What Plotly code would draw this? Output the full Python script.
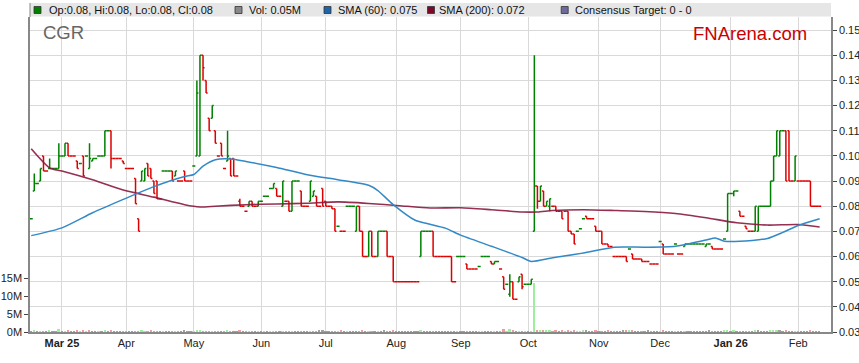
import plotly.graph_objects as go
import pandas as pd

# trading days (weekdays) shown on the chart
dates = pd.bdate_range("2025-02-17", "2026-02-11")

# one line per week (Mon..Fri)
opens = [
    0.075, 0.086, 0.089, 0.090, 0.100,
    0.094, 0.095, 0.095, 0.095, 0.095,
    0.100, 0.100, 0.105, 0.100, 0.100,
    0.098, 0.097, 0.100, 0.100, 0.095,
    0.098, 0.099, 0.100, 0.100, 0.100,
    0.110, 0.110, 0.099, 0.099, 0.099,
    0.098, 0.095, 0.095, 0.095, 0.091,
    0.075, 0.090, 0.090, 0.097, 0.095,
    0.090, 0.090, 0.083, 0.094, 0.094,
    0.094, 0.094, 0.092, 0.090, 0.090,
    0.094, 0.090, 0.090, 0.096, 0.100,
    0.100, 0.140, 0.130, 0.115, 0.115,
    0.110, 0.100, 0.105, 0.095, 0.098,
    0.099, 0.099, 0.092, 0.082, 0.080,
    0.078, 0.080, 0.082, 0.080, 0.080,
    0.082, 0.084, 0.084, 0.087, 0.087,
    0.087, 0.084, 0.080, 0.082, 0.082,
    0.078, 0.090, 0.090, 0.086, 0.080,
    0.080, 0.082, 0.084, 0.084, 0.080,
    0.087, 0.082, 0.080, 0.080, 0.079,
    0.072, 0.070, 0.070, 0.080, 0.080,
    0.080, 0.070, 0.080, 0.070, 0.060,
    0.060, 0.070, 0.060, 0.060, 0.070,
    0.070, 0.070, 0.060, 0.060, 0.050,
    0.050, 0.050, 0.050, 0.050, 0.050,
    0.050, 0.050, 0.060, 0.070, 0.070,
    0.070, 0.070, 0.060, 0.060, 0.060,
    0.060, 0.060, 0.060, 0.050, 0.060,
    0.060, 0.060, 0.057, 0.055, 0.055,
    0.055, 0.056, 0.060, 0.060, 0.060,
    0.058, 0.057, 0.058, 0.055, 0.052,
    0.049, 0.045, 0.050, 0.043, 0.050,
    0.053, 0.049, 0.049, 0.049, 0.070,
    0.088, 0.082, 0.086, 0.080, 0.080,
    0.080, 0.080, 0.078, 0.078, 0.078,
    0.078, 0.070, 0.069, 0.070, 0.071,
    0.075, 0.076, 0.075, 0.075, 0.072,
    0.070, 0.070, 0.065, 0.065, 0.064,
    0.060, 0.060, 0.060, 0.060, 0.060,
    0.063, 0.061, 0.059, 0.059, 0.059,
    0.058, 0.058, 0.057, 0.057, 0.057,
    0.066, 0.065, 0.061, 0.061, 0.061,
    0.065, 0.061, 0.061, 0.064, 0.065,
    0.065, 0.065, 0.065, 0.065, 0.065,
    0.064, 0.065, 0.064, 0.063, 0.063,
    0.063, 0.067, 0.070, 0.085, 0.085,
    0.086, 0.078, 0.076, 0.072, 0.070,
    0.070, 0.070, 0.070, 0.080, 0.080,
    0.080, 0.080, 0.090, 0.100, 0.100,
    0.110, 0.110, 0.110, 0.090, 0.090,
    0.090, 0.090, 0.090, 0.090, 0.090,
    0.080, 0.080, 0.080,
]
highs = [
    0.075, 0.093, 0.089, 0.095, 0.100,
    0.094, 0.099, 0.095, 0.095, 0.105,
    0.100, 0.105, 0.105, 0.100, 0.100,
    0.098, 0.097, 0.100, 0.100, 0.105,
    0.099, 0.099, 0.100, 0.100, 0.110,
    0.110, 0.110, 0.099, 0.099, 0.099,
    0.098, 0.095, 0.095, 0.095, 0.091,
    0.075, 0.094, 0.095, 0.097, 0.095,
    0.090, 0.090, 0.083, 0.094, 0.094,
    0.094, 0.094, 0.094, 0.090, 0.090,
    0.094, 0.090, 0.090, 0.096, 0.130,
    0.140, 0.140, 0.130, 0.115, 0.120,
    0.110, 0.100, 0.105, 0.095, 0.110,
    0.099, 0.099, 0.092, 0.083, 0.080,
    0.078, 0.082, 0.082, 0.080, 0.082,
    0.082, 0.084, 0.084, 0.087, 0.089,
    0.087, 0.084, 0.090, 0.082, 0.082,
    0.090, 0.090, 0.090, 0.086, 0.080,
    0.080, 0.090, 0.086, 0.084, 0.080,
    0.087, 0.082, 0.080, 0.080, 0.079,
    0.072, 0.070, 0.070, 0.080, 0.080,
    0.080, 0.080, 0.080, 0.070, 0.060,
    0.070, 0.070, 0.060, 0.070, 0.070,
    0.070, 0.070, 0.060, 0.060, 0.050,
    0.050, 0.050, 0.050, 0.050, 0.050,
    0.050, 0.050, 0.070, 0.070, 0.070,
    0.070, 0.070, 0.060, 0.060, 0.060,
    0.060, 0.060, 0.060, 0.050, 0.060,
    0.060, 0.060, 0.057, 0.055, 0.055,
    0.055, 0.056, 0.060, 0.060, 0.060,
    0.058, 0.058, 0.058, 0.055, 0.052,
    0.049, 0.053, 0.050, 0.043, 0.052,
    0.053, 0.049, 0.049, 0.051, 0.140,
    0.088, 0.088, 0.086, 0.082, 0.083,
    0.080, 0.080, 0.078, 0.078, 0.078,
    0.078, 0.070, 0.069, 0.070, 0.071,
    0.075, 0.076, 0.075, 0.075, 0.072,
    0.070, 0.070, 0.065, 0.065, 0.064,
    0.060, 0.060, 0.060, 0.060, 0.060,
    0.063, 0.061, 0.059, 0.059, 0.059,
    0.058, 0.058, 0.057, 0.057, 0.057,
    0.066, 0.065, 0.061, 0.061, 0.061,
    0.065, 0.061, 0.061, 0.065, 0.065,
    0.065, 0.065, 0.065, 0.065, 0.065,
    0.065, 0.065, 0.064, 0.063, 0.063,
    0.063, 0.067, 0.085, 0.085, 0.086,
    0.086, 0.078, 0.076, 0.072, 0.070,
    0.070, 0.080, 0.080, 0.080, 0.080,
    0.080, 0.090, 0.100, 0.110, 0.110,
    0.110, 0.110, 0.110, 0.090, 0.100,
    0.090, 0.090, 0.090, 0.090, 0.090,
    0.080, 0.080, 0.080,
]
lows = [
    0.075, 0.086, 0.089, 0.090, 0.094,
    0.094, 0.095, 0.095, 0.095, 0.095,
    0.100, 0.100, 0.100, 0.100, 0.100,
    0.095, 0.097, 0.092, 0.100, 0.095,
    0.098, 0.099, 0.100, 0.100, 0.100,
    0.110, 0.095, 0.099, 0.099, 0.099,
    0.097, 0.095, 0.095, 0.095, 0.081,
    0.070, 0.090, 0.090, 0.092, 0.091,
    0.085, 0.083, 0.083, 0.094, 0.094,
    0.094, 0.090, 0.092, 0.090, 0.090,
    0.090, 0.090, 0.090, 0.096, 0.100,
    0.100, 0.130, 0.125, 0.110, 0.115,
    0.105, 0.100, 0.100, 0.095, 0.098,
    0.092, 0.092, 0.092, 0.080, 0.080,
    0.078, 0.080, 0.080, 0.080, 0.080,
    0.082, 0.084, 0.084, 0.087, 0.087,
    0.084, 0.084, 0.080, 0.082, 0.078,
    0.078, 0.090, 0.090, 0.080, 0.080,
    0.080, 0.082, 0.084, 0.080, 0.080,
    0.080, 0.080, 0.080, 0.079, 0.070,
    0.072, 0.070, 0.070, 0.080, 0.080,
    0.080, 0.070, 0.070, 0.060, 0.060,
    0.060, 0.060, 0.060, 0.060, 0.070,
    0.070, 0.060, 0.060, 0.050, 0.050,
    0.050, 0.050, 0.050, 0.050, 0.050,
    0.050, 0.050, 0.060, 0.070, 0.070,
    0.070, 0.060, 0.060, 0.060, 0.060,
    0.060, 0.060, 0.050, 0.050, 0.060,
    0.060, 0.060, 0.055, 0.055, 0.055,
    0.055, 0.056, 0.060, 0.060, 0.060,
    0.057, 0.057, 0.058, 0.055, 0.047,
    0.049, 0.044, 0.043, 0.043, 0.050,
    0.047, 0.049, 0.049, 0.049, 0.070,
    0.079, 0.082, 0.080, 0.080, 0.078,
    0.080, 0.078, 0.078, 0.075, 0.078,
    0.070, 0.069, 0.065, 0.070, 0.071,
    0.075, 0.075, 0.075, 0.075, 0.070,
    0.070, 0.065, 0.065, 0.064, 0.064,
    0.060, 0.060, 0.060, 0.060, 0.058,
    0.063, 0.059, 0.059, 0.059, 0.058,
    0.058, 0.058, 0.057, 0.057, 0.057,
    0.066, 0.061, 0.061, 0.061, 0.061,
    0.065, 0.061, 0.061, 0.064, 0.065,
    0.065, 0.065, 0.065, 0.065, 0.065,
    0.064, 0.065, 0.063, 0.063, 0.063,
    0.063, 0.067, 0.070, 0.085, 0.084,
    0.086, 0.076, 0.076, 0.071, 0.070,
    0.070, 0.070, 0.070, 0.080, 0.080,
    0.080, 0.080, 0.090, 0.100, 0.100,
    0.110, 0.090, 0.090, 0.090, 0.090,
    0.090, 0.090, 0.090, 0.090, 0.080,
    0.080, 0.080, 0.080,
]
closes = [
    0.075, 0.089, 0.089, 0.095, 0.094,
    0.094, 0.095, 0.095, 0.095, 0.100,
    0.100, 0.105, 0.100, 0.100, 0.100,
    0.095, 0.097, 0.092, 0.100, 0.099,
    0.099, 0.099, 0.100, 0.100, 0.110,
    0.110, 0.099, 0.099, 0.099, 0.099,
    0.097, 0.095, 0.095, 0.095, 0.081,
    0.070, 0.094, 0.095, 0.092, 0.091,
    0.085, 0.083, 0.083, 0.094, 0.094,
    0.094, 0.090, 0.094, 0.090, 0.090,
    0.090, 0.090, 0.090, 0.096, 0.125,
    0.140, 0.135, 0.125, 0.110, 0.120,
    0.105, 0.100, 0.100, 0.095, 0.100,
    0.092, 0.092, 0.092, 0.080, 0.080,
    0.078, 0.082, 0.080, 0.080, 0.082,
    0.082, 0.084, 0.084, 0.087, 0.089,
    0.084, 0.084, 0.090, 0.082, 0.078,
    0.090, 0.090, 0.090, 0.080, 0.080,
    0.080, 0.090, 0.086, 0.080, 0.080,
    0.080, 0.080, 0.080, 0.079, 0.070,
    0.072, 0.070, 0.070, 0.080, 0.080,
    0.080, 0.080, 0.070, 0.060, 0.060,
    0.070, 0.060, 0.060, 0.070, 0.070,
    0.070, 0.060, 0.060, 0.050, 0.050,
    0.050, 0.050, 0.050, 0.050, 0.050,
    0.050, 0.050, 0.070, 0.070, 0.070,
    0.070, 0.060, 0.060, 0.060, 0.060,
    0.060, 0.060, 0.050, 0.050, 0.060,
    0.060, 0.060, 0.055, 0.055, 0.055,
    0.055, 0.056, 0.060, 0.060, 0.060,
    0.057, 0.058, 0.058, 0.055, 0.047,
    0.049, 0.050, 0.043, 0.043, 0.052,
    0.048, 0.049, 0.049, 0.051, 0.088,
    0.082, 0.088, 0.080, 0.082, 0.083,
    0.080, 0.078, 0.078, 0.075, 0.078,
    0.070, 0.069, 0.065, 0.070, 0.071,
    0.075, 0.075, 0.075, 0.075, 0.070,
    0.070, 0.065, 0.065, 0.064, 0.064,
    0.060, 0.060, 0.060, 0.060, 0.058,
    0.063, 0.059, 0.059, 0.059, 0.058,
    0.058, 0.058, 0.057, 0.057, 0.057,
    0.066, 0.061, 0.061, 0.061, 0.061,
    0.065, 0.061, 0.061, 0.065, 0.065,
    0.065, 0.065, 0.065, 0.065, 0.065,
    0.065, 0.065, 0.063, 0.063, 0.063,
    0.063, 0.067, 0.085, 0.085, 0.086,
    0.086, 0.076, 0.076, 0.071, 0.070,
    0.070, 0.080, 0.080, 0.080, 0.080,
    0.080, 0.090, 0.100, 0.110, 0.110,
    0.110, 0.090, 0.090, 0.090, 0.100,
    0.090, 0.090, 0.090, 0.090, 0.080,
    0.080, 0.080, 0.080,
]
# volume in millions of shares
volumes_m = [
    0.05, 0.3, 0.05, 0.05, 0.05,
    0.05, 0.3, 0.05, 0.05, 0.9,
    0.05, 0.05, 0.3, 0.05, 0.05,
    0.4, 0.05, 0.4, 0.05, 0.3,
    0.05, 0.05, 0.05, 0.05, 0.3,
    0.05, 0.3, 0.05, 0.05, 0.05,
    0.05, 0.05, 0.05, 0.05, 0.05,
    0.05, 0.3, 0.05, 0.05, 0.3,
    0.05, 0.05, 0.05, 0.05, 0.05,
    0.05, 0.05, 0.05, 0.05, 0.05,
    0.3, 0.05, 0.05, 0.05, 0.4,
    0.4, 0.05, 0.05, 0.05, 0.05,
    0.05, 0.05, 0.05, 0.05, 0.3,
    0.05, 0.05, 0.05, 0.3, 0.05,
    0.05, 0.05, 0.05, 0.05, 0.05,
    0.05, 0.05, 0.05, 0.05, 0.05,
    0.05, 0.05, 0.05, 0.05, 0.05,
    0.05, 0.05, 0.05, 0.05, 0.05,
    0.05, 0.05, 0.05, 0.05, 0.3,
    0.3, 0.05, 0.05, 0.05, 0.05,
    0.05, 0.3, 0.05, 0.05, 0.05,
    0.05, 0.05, 0.05, 0.6, 0.05,
    0.05, 0.05, 0.05, 0.05, 0.05,
    0.3, 0.05, 0.05, 0.6, 0.05,
    0.05, 0.05, 0.05, 0.05, 0.05,
    0.05, 0.05, 0.5, 0.05, 0.05,
    0.05, 0.05, 0.05, 0.05, 0.05,
    0.05, 0.05, 0.05, 0.2, 0.05,
    0.05, 0.05, 0.05, 0.05, 0.05,
    0.05, 0.05, 0.05, 0.05, 0.05,
    0.05, 0.05, 0.05, 0.05, 0.9,
    0.05, 0.7, 0.3, 0.05, 0.05,
    0.05, 0.05, 0.05, 0.05, 13.5,
    0.6, 0.3, 0.3, 0.3, 0.3,
    0.05, 0.5, 0.05, 0.3, 0.05,
    0.6, 0.05, 0.4, 0.05, 0.05,
    0.3, 0.3, 0.05, 0.05, 0.3,
    0.05, 0.05, 0.05, 0.3, 0.05,
    0.05, 0.05, 0.05, 0.3, 0.3,
    0.3, 0.3, 0.05, 0.05, 0.05,
    0.05, 0.3, 0.05, 0.05, 0.05,
    0.05, 0.3, 0.05, 0.05, 0.05,
    0.05, 0.05, 0.05, 0.05, 0.05,
    0.05, 0.05, 0.05, 0.05, 0.05,
    0.05, 0.3, 0.05, 0.05, 0.05,
    0.05, 0.3, 0.4, 0.05, 0.3,
    0.05, 0.05, 0.05, 0.05, 0.05,
    0.05, 0.4, 0.3, 0.05, 0.05,
    0.05, 0.3, 0.4, 0.6, 0.3,
    0.05, 0.3, 0.05, 0.05, 0.05,
    0.05, 0.05, 0.05, 0.05, 0.3,
    0.05, 0.05, 0.05,
]

# moving averages
sma60_dates = ["2025-02-17", "2025-03-03", "2025-03-17", "2025-03-31", "2025-04-14",
               "2025-04-28", "2025-05-01", "2025-05-06", "2025-05-12", "2025-05-19",
               "2025-05-26", "2025-06-09", "2025-06-23", "2025-07-07", "2025-07-21",
               "2025-07-24", "2025-07-31", "2025-08-11", "2025-08-18", "2025-08-25",
               "2025-09-01", "2025-09-15", "2025-09-29", "2025-10-02", "2025-10-13",
               "2025-10-27", "2025-11-10", "2025-11-24", "2025-12-08", "2025-12-22",
               "2025-12-25", "2025-12-30", "2026-01-12", "2026-01-19", "2026-01-26",
               "2026-02-02", "2026-02-11"]
sma60_values = [0.0683, 0.0714, 0.0774, 0.0827, 0.0878,
                0.0918, 0.0926, 0.0959, 0.0985, 0.0988,
                0.0978, 0.0954, 0.0925, 0.0905, 0.0883,
                0.0862, 0.0806, 0.0745, 0.0728, 0.0713,
                0.0685, 0.0641, 0.0596, 0.0580, 0.0595,
                0.0614, 0.0637, 0.0637, 0.0641, 0.0666,
                0.0674, 0.0661, 0.0664, 0.0672, 0.0696,
                0.0723, 0.0750]
sma200_dates = ["2025-02-17", "2025-02-25", "2025-03-03", "2025-03-17", "2025-03-31",
                "2025-04-14", "2025-04-28", "2025-05-05", "2025-05-12", "2025-05-26",
                "2025-06-09", "2025-06-23", "2025-07-07", "2025-07-21", "2025-08-04",
                "2025-08-18", "2025-09-01", "2025-09-15", "2025-09-29", "2025-10-06",
                "2025-10-13", "2025-10-27", "2025-11-10", "2025-11-24", "2025-12-08",
                "2025-12-22", "2026-01-05", "2026-01-19", "2026-02-02", "2026-02-11"]
sma200_values = [0.1028, 0.0952, 0.0940, 0.0905, 0.0864,
                 0.0836, 0.0806, 0.0797, 0.0800, 0.0806,
                 0.0809, 0.0812, 0.0817, 0.0811, 0.0802,
                 0.0793, 0.0794, 0.0786, 0.0777, 0.0777,
                 0.0783, 0.0786, 0.0783, 0.0779, 0.0771,
                 0.0754, 0.0734, 0.0725, 0.0727, 0.0717]

month_tick_dates = ["2025-03-03", "2025-04-01", "2025-05-01", "2025-06-02", "2025-07-01",
                    "2025-08-01", "2025-09-01", "2025-10-01", "2025-11-03", "2025-12-01",
                    "2026-01-01", "2026-02-02"]
month_tick_labels = ["<b>Mar 25</b>", "Apr", "May", "Jun", "Jul", "Aug", "Sep", "Oct",
                     "Nov", "Dec", "<b>Jan 26</b>", "Feb"]
vol_ticks = [0, 5, 10, 15]
vol_tick_labels = ["0M", "5M", "10M", "15M"]

legend_items = [
    ("Op:0.08, Hi:0.08, Lo:0.08, Cl:0.08", "#008000"),
    ("Vol: 0.05M", "#888888"),
    ("SMA (60): 0.075", "#1f63a8"),
    ("SMA (200): 0.072", "#7a0a2a"),
    ("Consensus Target: 0 - 0", "#6c6c9c"),
]

FONT = "Liberation Sans, Arial, sans-serif"
W, H = 859, 363
PX0, PX1, PY0, PY1 = 30, 831, 17, 332
ML, MR, MT, MB = PX0, W - PX1, PY0, H - PY1
PW, PH = PX1 - PX0, PY1 - PY0

def px_x(px):
    return (px - PX0) / PW

def px_y(py):
    return (PY1 - py) / PH

vol_colors = []
for i, c in enumerate(closes):
    prev = closes[i - 1] if i > 0 else c
    if c > prev:
        vol_colors.append("#9cf09c")
    elif c < prev:
        vol_colors.append("#f29a9a")
    else:
        vol_colors.append("#a0a0a0")

fig = go.Figure()
fig.add_trace(go.Bar(
    x=dates, y=volumes_m, marker=dict(color=vol_colors, line=dict(width=0)),
    width=0.55 * 86400000, yaxis="y", showlegend=False, hoverinfo="skip"))
fig.add_trace(go.Ohlc(
    x=dates, open=opens, high=highs, low=lows, close=closes, yaxis="y2",
    increasing=dict(line=dict(color="#008000", width=1.5)),
    decreasing=dict(line=dict(color="#dd0000", width=1.5)),
    tickwidth=0.5, showlegend=False))
fig.add_trace(go.Scatter(
    x=sma200_dates, y=sma200_values, yaxis="y2", mode="lines",
    line=dict(color="#8a1a40", width=1.6, shape="spline", smoothing=0.6),
    opacity=0.9, showlegend=False))
fig.add_trace(go.Scatter(
    x=sma60_dates, y=sma60_values, yaxis="y2", mode="lines",
    line=dict(color="#3389c6", width=1.5, shape="spline", smoothing=0.6),
    showlegend=False))

shapes = [dict(type="rect", xref="paper", yref="paper", x0=0, x1=1,
               y0=px_y(16.5), y1=px_y(3), fillcolor="#e6e6e6",
               line=dict(width=0), layer="below"),
          dict(type="line", xref="paper", yref="paper", x0=0, x1=0,
               y0=1, y1=px_y(3), line=dict(color="#888888", width=1))]
annotations = []
sq_px = [37.5, 238.5, 327.5, 431.0, 564.7]
txt_px = [47, 247, 336, 437, 573]
for (label, col), sx, tx in zip(legend_items, sq_px, txt_px):
    shapes.append(dict(type="rect", xref="paper", yref="paper",
                       x0=px_x(sx - 3.5), x1=px_x(sx + 3.5),
                       y0=px_y(13.5), y1=px_y(6.5), fillcolor=col,
                       line=dict(color="#333333", width=0.8)))
    annotations.append(dict(text=label, xref="paper", yref="paper", x=px_x(tx),
                            y=px_y(10), xanchor="left", yanchor="middle",
                            showarrow=False, font=dict(family=FONT, size=11, color="#111111")))
annotations.append(dict(text="CGR", xref="paper", yref="paper", x=px_x(41), y=px_y(32),
                        xanchor="left", yanchor="middle", showarrow=False,
                        font=dict(family=FONT, size=18.5, color="#666666")))
annotations.append(dict(text="FNArena.com", xref="paper", yref="paper", x=px_x(809),
                        y=px_y(33), xanchor="right", yanchor="middle", showarrow=False,
                        font=dict(family=FONT, size=18.5, color="#cc0000")))

fig.update_layout(
    width=W, height=H, margin=dict(l=ML, r=MR, t=MT, b=MB, pad=0, autoexpand=False),
    paper_bgcolor="white", plot_bgcolor="white",
    font=dict(family=FONT, size=11, color="#222222"),
    showlegend=False, bargap=0, shapes=shapes, annotations=annotations,
    xaxis=dict(type="date", rangebreaks=[dict(bounds=["sat", "mon"])],
               range=["2025-02-14 14:24", "2026-02-16 16:48"],
               tickvals=month_tick_dates, ticktext=month_tick_labels,
               showgrid=True, gridcolor="#d9d9d9", gridwidth=1,
               showline=True, linecolor="#888888", linewidth=1.5,
               ticks="", tickfont=dict(size=11, color="#222222"), automargin=False,
               rangeslider=dict(visible=False), zeroline=False),
    yaxis=dict(side="left", range=[0, 87.5], tickvals=vol_ticks, ticktext=vol_tick_labels,
               showgrid=False, zeroline=False, showline=True, linecolor="#888888",
               linewidth=1.5, ticks="outside", ticklen=4, tickcolor="#444444",
               automargin=False, tickfont=dict(size=11, color="#222222")),
    yaxis2=dict(side="right", overlaying="y", range=[0.03, 0.1552], tick0=0.03,
                dtick=0.01, tickformat=".2f", showgrid=True, gridcolor="#d9d9d9",
                gridwidth=1, zeroline=False, showline=True, linecolor="#888888",
                linewidth=1.5, ticks="outside", ticklen=4, tickcolor="#444444",
                automargin=False, tickfont=dict(size=11, color="#222222")),
)

# the page body has a default 8px margin; remove it so the figure sits at (0, 0)
fig.write_html("out.html", config={"displayModeBar": False},
               post_script="document.body.style.margin='0';")
